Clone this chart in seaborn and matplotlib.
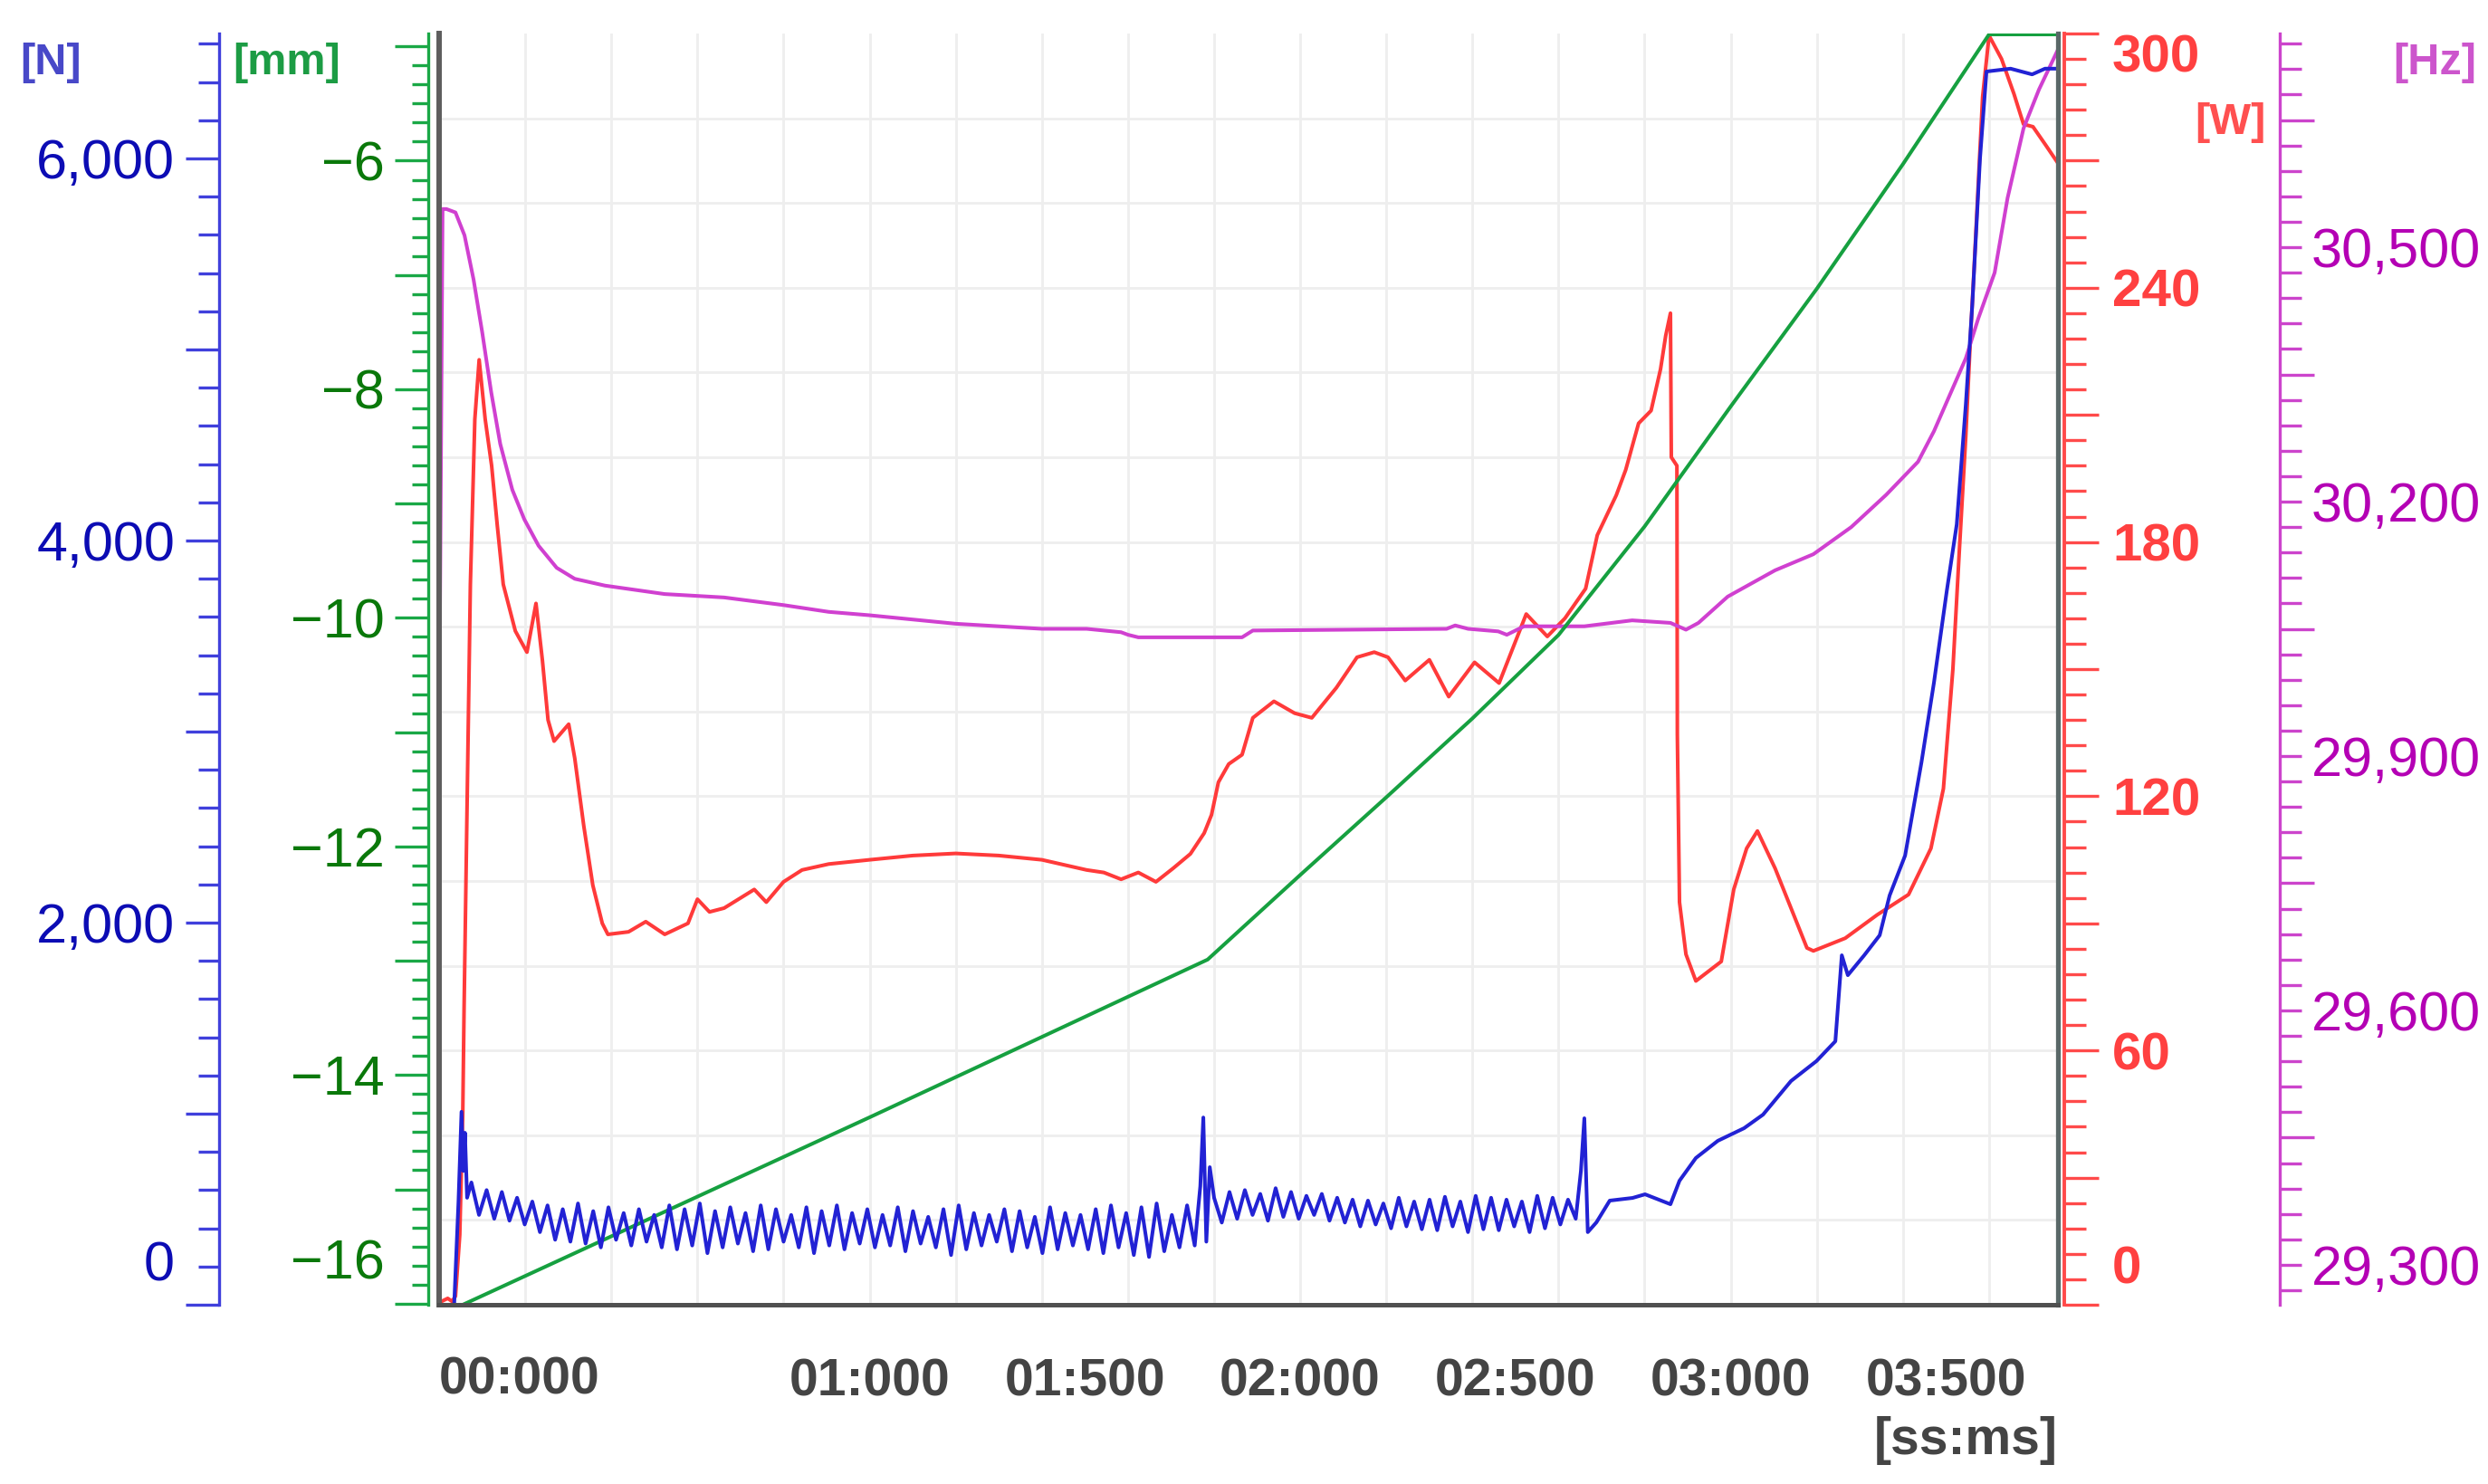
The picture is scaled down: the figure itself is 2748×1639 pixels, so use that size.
import numpy as np
import matplotlib
matplotlib.use("Agg")
import matplotlib.pyplot as plt
import matplotlib.ticker as mt
import seaborn as sns

# ---------------- data (time in seconds) ----------------
# Power [W] (red)
power_t = [0.0, 0.02, 0.03, 0.038, 0.048, 0.055, 0.058, 0.065, 0.0726, 0.083, 0.093, 0.107, 0.122, 0.135,
           0.149, 0.177, 0.204, 0.225, 0.24, 0.253, 0.267, 0.301, 0.315, 0.336, 0.357, 0.379, 0.392, 0.44,
           0.48, 0.524, 0.578, 0.60, 0.628, 0.662, 0.732, 0.76, 0.80, 0.843, 0.905, 1.0, 1.1, 1.2, 1.3, 1.4,
           1.504, 1.544, 1.584, 1.624, 1.665, 1.705, 1.745, 1.777, 1.794, 1.81, 1.834, 1.865, 1.89, 1.939,
           1.987, 2.027, 2.084, 2.132, 2.172, 2.204, 2.244, 2.30, 2.345, 2.405, 2.462, 2.525, 2.574, 2.615,
           2.663, 2.69, 2.734, 2.756, 2.786, 2.815, 2.837, 2.849, 2.86, 2.862, 2.875, 2.876, 2.881, 2.896,
           2.919, 2.978, 3.007, 3.037, 3.062, 3.103, 3.177, 3.192, 3.266, 3.34, 3.413, 3.465, 3.494, 3.516,
           3.531, 3.546, 3.557, 3.565, 3.585, 3.60, 3.629, 3.658, 3.68, 3.702, 3.732, 3.76]
power_w = [0.5, 1.5, 0.8, 2, 16.5, 45.6, 70, 118, 170, 209, 223, 209, 198, 184,
           170, 159, 154, 165.5, 152, 138, 133, 137, 129, 113, 99, 90, 87.4, 88,
           90.4, 87.4, 90, 95.7, 92.7, 93.6, 98, 95, 99.8, 102.6, 104, 105, 106, 106.5, 106, 105,
           102.6, 102, 100.4, 102, 99.8, 103, 106.4, 111.3, 115.6, 123.3, 127.6, 129.8, 138.5, 142.4,
           139.6, 138.5, 145.6, 152.8, 154, 152.8, 147.3, 152.2, 143.5, 151.6, 146.7, 163, 157.7, 162,
           169, 181.6, 191, 197, 208, 211, 220.8, 228.7, 234, 200, 198, 134.5, 95, 82.7,
           76.4, 81, 98, 107.7, 111.8, 103, 84.2, 83.5, 86.5, 92, 96.8, 107.7, 121.8, 150,
           178, 205, 228.7, 244, 285, 299.5, 294, 285.7, 278.6, 278, 273.6, 269.4]

# Frequency [Hz] (magenta)
freq_t = [0.0, 0.008, 0.017, 0.038, 0.059, 0.08, 0.10, 0.121, 0.142, 0.17, 0.198, 0.231, 0.273, 0.315,
          0.385, 0.524, 0.662, 0.80, 0.905, 1.0, 1.2, 1.4, 1.504, 1.584, 1.60, 1.624, 1.865, 1.89, 2.34,
          2.36, 2.39, 2.46, 2.48, 2.52, 2.66, 2.771, 2.86, 2.896, 2.925, 2.993, 3.103, 3.192, 3.28, 3.361,
          3.435, 3.472, 3.546, 3.575, 3.613, 3.643, 3.68, 3.716, 3.76]
freq_hz = [29906, 30545, 30545, 30541, 30514, 30462, 30400, 30329, 30268, 30214, 30179, 30148, 30122, 30109,
           30101, 30091, 30087, 30078, 30070, 30066, 30056, 30050, 30050, 30046, 30043, 30040, 30040, 30048, 30050,
           30054, 30050, 30047, 30043, 30053, 30053, 30060, 30057, 30049, 30057, 30088, 30119, 30138, 30170, 30208,
           30247, 30283, 30369, 30416, 30470, 30558, 30640, 30686, 30733]

# Displacement [mm] (green)
disp_t = [0.0, 0.055, 1.0, 1.785, 2.0, 2.2, 2.4, 2.6, 2.8, 3.0, 3.2, 3.4, 3.6, 3.76]
disp_mm = [-16.01, -16.01, -14.37, -12.99, -12.25, -11.57, -10.88, -10.15, -9.2, -8.15, -7.12, -6.03, -4.895, -4.895]

# Force [N] (blue)
force_start_t = [0.0, 0.035, 0.045, 0.052, 0.056, 0.06, 0.065]
force_start_n = [0, 0, 540, 1010, 700, 900, 560]
force_osc1_span = (0.075, 1.755)
force_osc1_n = [640, 470, 600, 450, 590, 440, 560, 420,
                540, 380, 520, 340, 500, 330, 530, 320, 490, 300, 510, 340, 480, 310, 500, 330, 470,
                300, 520, 290, 500, 310, 530, 270, 490, 300, 510, 320, 480, 280, 520, 290, 500, 330, 470,
                300, 510, 270, 490, 310, 520, 290, 480, 320, 500,
                300, 470, 310, 510, 280, 490, 320, 460, 300, 500, 260, 520, 290, 480, 310, 470, 330, 500,
                280, 490, 300, 460, 270, 510, 290, 480, 310, 470,
                290, 500, 270, 520, 300, 480, 260, 510, 250, 530, 280, 470, 300, 520, 310]
force_spike1_t = [1.768, 1.775, 1.782, 1.79]
force_spike1_n = [620, 980, 330, 720]
force_osc2_span = (1.80, 2.64)
force_osc2_n = [560, 430, 590, 450, 600, 470, 580, 440, 610, 460, 590, 450, 570, 470, 580, 440,
                560, 430, 550, 410, 545, 420, 530, 400, 560, 410, 540, 395, 550, 390, 565, 410,
                540, 380, 570, 395, 560, 390, 550, 410, 540, 380, 570, 400, 560, 420, 550, 450]
force_end_t = [2.652, 2.66, 2.668, 2.688, 2.719, 2.772, 2.801, 2.86, 2.881, 2.919, 2.97, 3.031, 3.075, 3.14,
               3.199, 3.243, 3.258, 3.272, 3.31, 3.346, 3.369, 3.405, 3.443, 3.472, 3.502, 3.525, 3.546,
               3.561, 3.579, 3.594, 3.65, 3.70, 3.73, 3.76]
force_end_n = [700, 976, 380, 431, 545, 559, 578, 526, 649, 768, 858, 924, 995, 1171,
               1275, 1379, 1829, 1725, 1829, 1934, 2142, 2351, 2839, 3256, 3739, 4085, 4711,
               5232, 6000, 6455, 6470, 6440, 6470, 6470]

x_label_values = [1.0, 1.5, 2.0, 2.5, 3.0, 3.5]
x_tick_labels = ["01:000", "01:500", "02:000", "02:500", "03:000", "03:500"]

force_t = (force_start_t
           + list(np.linspace(*force_osc1_span, len(force_osc1_n)))
           + force_spike1_t
           + list(np.linspace(*force_osc2_span, len(force_osc2_n)))
           + force_end_t)
force_n = force_start_n + force_osc1_n + force_spike1_n + force_osc2_n + force_end_n

# ---------------- style ----------------
sns.set_theme(style="white")
plt.rcParams['font.family'] = ['Liberation Sans', 'DejaVu Sans']

W, H = 2748, 1639
L, R, T, B = 485, 2273, 37, 1441
PT = 0.72
fig = plt.figure(figsize=(W / 100, H / 100), dpi=100)
rect = [L / W, 1 - B / H, (R - L) / W, (B - T) / H]
XLIM = (0.0, 3.76)


def afrac(px):
    return (px - L) / (R - L)


def fxy(px, py):
    return px / W, 1 - py / H


# grid axes
axg = fig.add_axes(rect, zorder=0)
axg.set_xlim(*XLIM)
axg.set_ylim(0, 300)
axg.set_xticks(np.arange(0.2, 3.7, 0.2))
axg.set_yticks(np.arange(20, 300, 20))
axg.grid(True, color='#eeeeee', lw=2.0)
axg.tick_params(length=0, labelbottom=False, labelleft=False)
for s in axg.spines.values():
    s.set_visible(False)

RED, MAG, GRN, BLU = '#ff3a3a', '#d040d0', '#16a040', '#2222d4'
LW = 2.9


def data_axes(z):
    a = fig.add_axes(rect, zorder=z)
    a.patch.set_visible(False)
    for s in a.spines.values():
        s.set_visible(False)
    a.xaxis.set_visible(False)
    a.set_xlim(*XLIM)
    return a


ax_red = data_axes(2)
ax_mag = data_axes(3)
ax_grn = data_axes(4)
ax_blu = data_axes(5)

sns.lineplot(x=power_t, y=power_w, ax=ax_red, color=RED, linewidth=LW, estimator=None, sort=False)
sns.lineplot(x=freq_t, y=freq_hz, ax=ax_mag, color=MAG, linewidth=LW, estimator=None, sort=False)
sns.lineplot(x=disp_t, y=disp_mm, ax=ax_grn, color=GRN, linewidth=LW, estimator=None, sort=False)
sns.lineplot(x=force_t, y=force_n, ax=ax_blu, color=BLU, linewidth=LW, estimator=None, sort=False)

for a in (ax_red, ax_mag, ax_grn, ax_blu):
    a.set_xlim(*XLIM)
    a.set_xlabel('')
    a.set_ylabel('')
    a.xaxis.set_visible(False)

# ---- blue axis [N]
ax_blu.set_ylim(0, 6654)
ax_blu.yaxis.set_ticks_position('left')
ax_blu.spines['left'].set_visible(True)
ax_blu.spines['left'].set_position(('axes', afrac(242)))
ax_blu.spines['left'].set_color('#4040dc')
ax_blu.spines['left'].set_linewidth(2.4)
ax_blu.yaxis.set_major_locator(mt.FixedLocator(np.arange(0, 6001, 1000)))
ax_blu.yaxis.set_minor_locator(mt.FixedLocator(np.arange(0, 6601, 200)))
ax_blu.yaxis.set_major_formatter(mt.FuncFormatter(
    lambda v, p: f"{int(round(v)):,}" if int(round(v)) % 2000 == 0 and int(round(v)) != 0 else ""))
ax_blu.tick_params(axis='y', which='major', length=37 * PT, width=2.4, color='#4040dc',
                   labelcolor='#0c0cb4', labelsize=44, pad=8.5, direction='out')
ax_blu.tick_params(axis='y', which='minor', length=23 * PT, width=2.4, color='#4040dc', direction='out')

# ---- green axis [mm]
ax_grn.set_ylim(-16.01, -4.887)
ax_grn.yaxis.set_ticks_position('left')
ax_grn.spines['left'].set_visible(True)
ax_grn.spines['left'].set_position(('axes', afrac(473)))
ax_grn.spines['left'].set_color('#1aa846')
ax_grn.spines['left'].set_linewidth(2.4)
ax_grn.yaxis.set_major_locator(mt.FixedLocator(np.arange(-16, -4.9, 1.0)))
ax_grn.yaxis.set_minor_locator(mt.FixedLocator(np.arange(-16, -4.88, 1 / 6)))
ax_grn.yaxis.set_major_formatter(mt.FuncFormatter(
    lambda v, p: f"\u2212{abs(int(round(v)))}" if int(round(v)) % 2 == 0 and int(round(v)) != -16 else ""))
ax_grn.tick_params(axis='y', which='major', length=37 * PT, width=2.4, color='#1aa846',
                   labelcolor='#0a780a', labelsize=44, pad=8, direction='out')
ax_grn.tick_params(axis='y', which='minor', length=18 * PT, width=2.4, color='#1aa846', direction='out')

# ---- red axis [W]
ax_red.set_ylim(0, 300)
ax_red.yaxis.set_ticks_position('right')
ax_red.spines['right'].set_visible(True)
ax_red.spines['right'].set_position(('axes', afrac(2280)))
ax_red.spines['right'].set_color('#ff4a4a')
ax_red.spines['right'].set_linewidth(2.8)
ax_red.yaxis.set_major_locator(mt.FixedLocator(np.arange(0, 301, 30)))
ax_red.yaxis.set_minor_locator(mt.FixedLocator(np.arange(0, 301, 6)))
ax_red.yaxis.set_major_formatter(mt.FuncFormatter(
    lambda v, p: f"{int(round(v))}" if int(round(v)) % 60 == 0 and int(round(v)) not in (0, 300) else ""))
ax_red.tick_params(axis='y', which='major', length=38 * PT, width=2.4, color='#ff4a4a',
                   labelcolor='#ff4040', labelsize=42, pad=11, direction='out')
ax_red.tick_params(axis='y', which='minor', length=24 * PT, width=2.4, color='#ff4a4a', direction='out')

# ---- magenta axis [Hz]
ax_mag.set_ylim(29253, 30752)
ax_mag.yaxis.set_ticks_position('right')
ax_mag.spines['right'].set_visible(True)
ax_mag.spines['right'].set_position(('axes', afrac(2518)))
ax_mag.spines['right'].set_color('#cc44cc')
ax_mag.spines['right'].set_linewidth(2.4)
ax_mag.yaxis.set_major_locator(mt.FixedLocator(np.arange(29450, 30700, 300)))
ax_mag.yaxis.set_minor_locator(mt.FixedLocator(np.arange(29270, 30752, 30)))
ax_mag.yaxis.set_major_formatter(mt.NullFormatter())
ax_mag.yaxis.set_minor_formatter(mt.FuncFormatter(
    lambda v, p: f"{int(round(v)):,}" if (int(round(v)) - 29300) % 300 == 0 else ""))
ax_mag.tick_params(axis='y', which='major', length=38 * PT, width=2.4, color='#cc44cc', direction='out')
ax_mag.tick_params(axis='y', which='minor', length=24 * PT, width=2.4, color='#cc44cc',
                   labelcolor='#b400b4', labelsize=44, pad=8, direction='out')

# ---- base frame with time axis
base = fig.add_axes(rect, zorder=6)
base.patch.set_visible(False)
base.set_xlim(*XLIM)
base.set_yticks([])
base.spines['top'].set_visible(False)
base.spines['left'].set_color('#5e5e5e')
base.spines['left'].set_linewidth(4.3)
base.spines['right'].set_color('#5a6868')
base.spines['right'].set_linewidth(3.8)
base.spines['bottom'].set_color('#505050')
base.spines['bottom'].set_linewidth(3.6)
major_x = np.round(np.arange(0, 3.751, 0.25), 3)
base.xaxis.set_major_locator(mt.FixedLocator(major_x))
base.xaxis.set_minor_locator(mt.FixedLocator(np.round(np.arange(0, 3.7601, 0.05), 3)))
lab_map = dict(zip(x_label_values, x_tick_labels))
base.xaxis.set_major_formatter(mt.FixedFormatter([lab_map.get(float(v), "") for v in major_x]))
base.tick_params(axis='x', which='major', length=38 * PT, width=2.8, color='#444444',
                 labelcolor='#444444', labelsize=41, pad=15, direction='out')
base.tick_params(axis='x', which='minor', length=28 * PT, width=2.8, color='#444444', direction='out')

plt.setp(ax_red.get_yticklabels(), fontweight='bold')
plt.setp(base.get_xticklabels(), fontweight='bold')

# ---- edge labels placed inside the axis span, and unit labels
fig.text(*fxy(193, 1399), "0", ha='right', va='center', fontsize=44, color='#0c0cb4')
fig.text(*fxy(425, 1397), "\u221216", ha='right', va='center', fontsize=44, color='#0a780a')
fig.text(*fxy(2333, 1403), "0", ha='left', va='center', fontsize=42, color='#ff4040', fontweight='bold')
fig.text(*fxy(2333, 65), "300", ha='left', va='center', fontsize=42, color='#ff4040', fontweight='bold')
fig.text(*fxy(485, 1525), "00:000", ha='left', va='center', fontsize=41, color='#444444', fontweight='bold')
fig.text(*fxy(2273, 1591), "[ss:ms]", ha='right', va='center', fontsize=41, color='#444444', fontweight='bold')

fig.text(*fxy(22, 69), "[N]", ha='left', va='center', fontsize=35, color='#4848c8', fontweight='bold')
fig.text(*fxy(257, 69), "[mm]", ha='left', va='center', fontsize=35, color='#1c9c44', fontweight='bold')
fig.text(*fxy(2424, 135), "[W]", ha='left', va='center', fontsize=35, color='#ff5050', fontweight='bold')
fig.text(*fxy(2735, 69), "[Hz]", ha='right', va='center', fontsize=35, color='#cc55cc', fontweight='bold')

fig.savefig("out.png", dpi=100, facecolor='white')
